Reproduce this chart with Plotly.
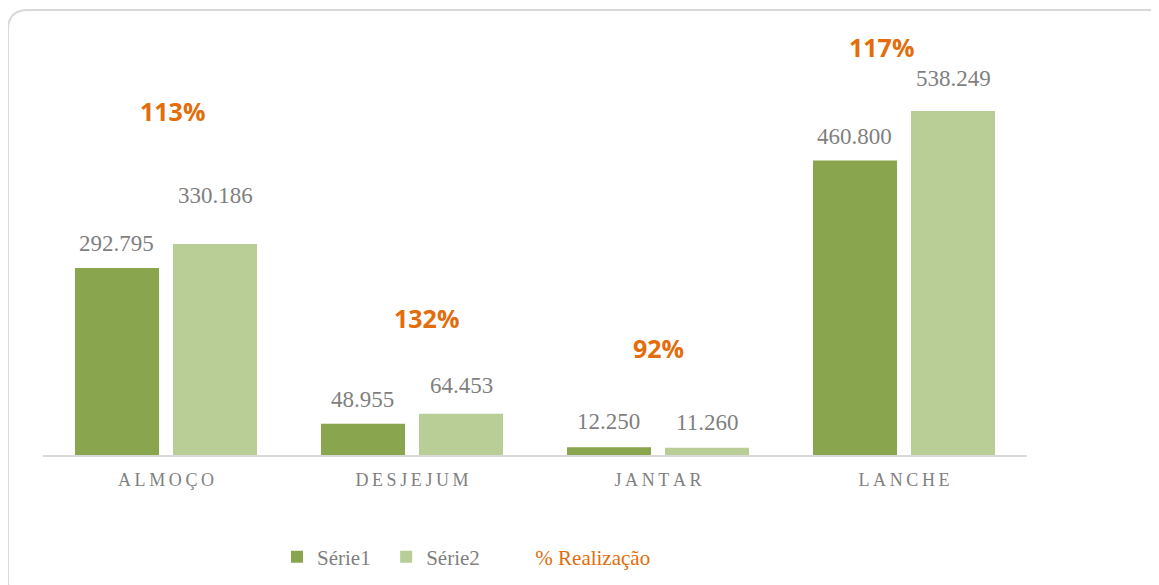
import plotly.graph_objects as go

# ---- data ----
categories = ["ALMOÇO", "DESJEJUM", "JANTAR", "LANCHE"]
serie1 = [292795, 48955, 12250, 460800]
serie2 = [330186, 64453, 11260, 538249]
pct_realizacao = [round(100 * b / a) for a, b in zip(serie1, serie2)]
pct_label_y = [538000, 214000, 167000, 638000]   # label heights (data units)

# ---- style ----
C1 = "#89A54E"
C2 = "#B9CE97"
ORANGE = "#E46C0A"
GRAY = "#7F7F7F"
SERIF = "Liberation Serif"
OFF = 8                      # page body margin
W, H = 1159 - OFF, 585 - OFF
ML, MT = 43 - OFF, 20 - OFF
PW, PH = 984, 435
MR, MB = W - ML - PW, H - MT - PH
YMAX = 680750

lab1_shift = [10, 10, 11, 10]
lab2_shift = [34, 14, 11, 18]
pct_xshift = [6, 14, 0, -23]
PAD = "\u00a0" * 2

def fmt(v):
    return f"{v:,}".replace(",", ".")

def spaced(s):
    return "\u2009".join(s)

fig = go.Figure()
fig.add_trace(go.Bar(x=categories, y=serie1, name="Série1" + PAD,
                     marker=dict(color=C1, line=dict(width=0))))
fig.add_trace(go.Bar(x=categories, y=serie2, name="Série2" + PAD,
                     marker=dict(color=C2, line=dict(width=0))))
fig.add_trace(go.Scatter(x=categories, y=pct_label_y, mode="markers",
                         marker=dict(size=1, color="rgba(0,0,0,0)", opacity=0),
                         name=f"<span style='color:{ORANGE}'>% Realização</span>",
                         hoverinfo="skip"))

annotations = []
slot = 0.5 * (1 - 0.203) * PW / len(categories)
for i, c in enumerate(categories):
    annotations.append(dict(x=c, y=serie1[i], xref="x", yref="y", text=fmt(serie1[i]),
                            showarrow=False, yanchor="bottom", xshift=-slot / 2,
                            yshift=lab1_shift[i], font=dict(family=SERIF, size=23, color=GRAY)))
    annotations.append(dict(x=c, y=serie2[i], xref="x", yref="y", text=fmt(serie2[i]),
                            showarrow=False, yanchor="bottom", xshift=slot / 2,
                            yshift=lab2_shift[i], font=dict(family=SERIF, size=23, color=GRAY)))
    annotations.append(dict(x=c, y=pct_label_y[i], xref="x", yref="y",
                            text=f"<b>{pct_realizacao[i]}%</b>", showarrow=False,
                            xshift=pct_xshift[i],
                            font=dict(family="Open Sans", size=25, color=ORANGE)))

# rounded card border (page pixel coords -> paper coords)
def px(xp):
    return (xp - OFF - ML) / PW

def py(yp):
    return (MT + PH - (yp - OFF)) / PH

r = 20
x0, y0, x1, y1 = 8, 10, 1168, 600
path = (f"M {px(x0)},{py(y0 + r)} Q {px(x0)},{py(y0)} {px(x0 + r)},{py(y0)} "
        f"L {px(x1 - r)},{py(y0)} Q {px(x1)},{py(y0)} {px(x1)},{py(y0 + r)} "
        f"L {px(x1)},{py(y1 - r)} Q {px(x1)},{py(y1)} {px(x1 - r)},{py(y1)} "
        f"L {px(x0 + r)},{py(y1)} Q {px(x0)},{py(y1)} {px(x0)},{py(y1 - r)} Z")

fig.update_layout(
    width=W, height=H,
    margin=dict(l=ML, r=MR, t=MT, b=MB, autoexpand=False),
    paper_bgcolor="white", plot_bgcolor="white",
    barmode="group", bargap=0.203, bargroupgap=0.143,
    showlegend=True,
    legend=dict(orientation="h", x=px(277), xanchor="left", y=py(557), yanchor="middle",
                font=dict(family=SERIF, size=21, color=GRAY), traceorder="normal",
                itemclick=False),
    xaxis=dict(tickvals=categories, ticktext=[spaced(c) for c in categories],
               showline=True, linecolor="#D9D9D9", linewidth=1.5,
               ticks="outside", ticklen=8, tickcolor="rgba(0,0,0,0)",
               tickfont=dict(family=SERIF, size=18, color=GRAY),
               showgrid=False, zeroline=False, fixedrange=True),
    yaxis=dict(range=[0, YMAX], visible=False, showgrid=False, zeroline=False, fixedrange=True),
    annotations=annotations,
    shapes=[dict(type="path", path=path, xref="paper", yref="paper",
                 line=dict(color="#D9D9D9", width=2), layer="below")],
)

fig.write_html("out.html", config={"displayModeBar": False})
